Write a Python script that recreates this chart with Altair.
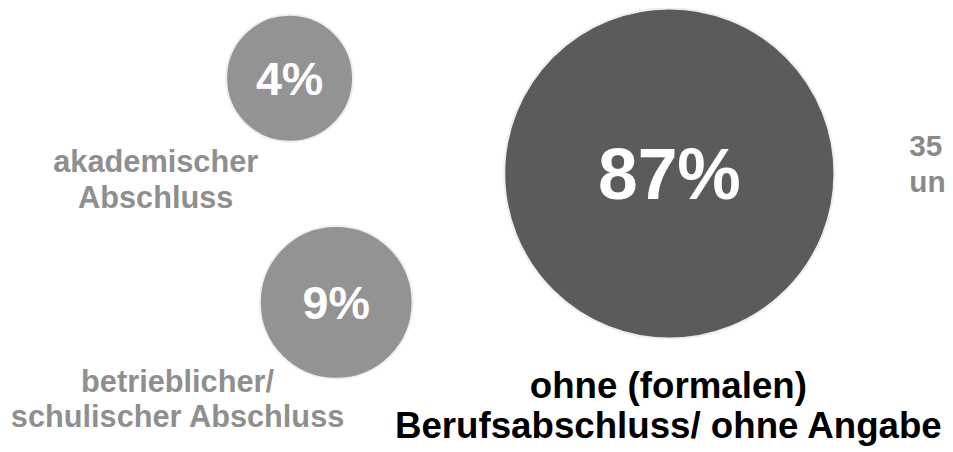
import altair as alt
import pandas as pd

# ---- data ----
categories = ["akademischer Abschluss",
              "betrieblicher/ schulischer Abschluss",
              "ohne (formalen) Berufsabschluss/ ohne Angabe"]
shares = [4, 9, 87]
share_labels = ["4%", "9%", "87%"]
label_lines = ["akademischer\nAbschluss",
               "betrieblicher/\nschulischer Abschluss",
               "ohne (formalen)\nBerufsabschluss/ ohne Angabe"]
side_note = ["35 Jahre\nund älter"]

# ---- layout (page pixel positions, bubble layout has no data axis) ----
bubble_x = [292, 339, 675]
bubble_y = [77, 303, 173]
label_x = [157, 179, 674]
label_y = [172, 393, 399]
note_x = [917]
note_y = [155]

W, H = 945, 444
FONT = "Liberation Sans"

bubbles = pd.DataFrame({"cat": categories, "share": shares, "lab": share_labels,
                        "x": bubble_x, "y": bubble_y})
labels = pd.DataFrame({"cat": categories, "text": label_lines, "x": label_x, "y": label_y})
note = pd.DataFrame({"text": side_note, "x": note_x, "y": note_y})

xs = alt.Scale(domain=[8, 8 + W], range=[0, W], nice=False, zero=False)
ys = alt.Scale(domain=[8, 8 + H], range=[0, H], nice=False, zero=False)
X = lambda: alt.X("x:Q", scale=xs, axis=None)
Y = lambda: alt.Y("y:Q", scale=ys, axis=None)

circles = alt.Chart(bubbles).mark_circle(opacity=1, stroke="#eeeeee", strokeWidth=2).encode(
    x=X(), y=Y(),
    size=alt.Size("share:Q", scale=alt.Scale(domain=[4, 9, 87], range=[16384, 23716, 110889]), legend=None),
    color=alt.Color("cat:N", scale=alt.Scale(domain=categories, range=["#939393", "#939393", "#5b5b5b"]), legend=None),
)

pct_small = alt.Chart(bubbles).transform_filter("datum.share < 50").mark_text(
    font=FONT, fontWeight="bold", color="white", fontSize=47, align="center",
    baseline="alphabetic", dy=17).encode(x=X(), y=Y(), text="lab:N")
pct_big = alt.Chart(bubbles).transform_filter("datum.share >= 50").mark_text(
    font=FONT, fontWeight="bold", color="white", fontSize=72, align="center",
    baseline="alphabetic", dy=26).encode(x=X(), y=Y(), text="lab:N")

gray_labels = alt.Chart(labels).transform_filter("datum.x < 400").mark_text(
    font=FONT, fontWeight="bold", color="#8f8f8f", fontSize=31, lineHeight=36,
    align="center", baseline="alphabetic", lineBreak="\n").encode(x=X(), y=Y(), text="text:N")
black_label = alt.Chart(labels).transform_filter("datum.x >= 400").mark_text(
    font=FONT, fontWeight="bold", color="#000000", fontSize=37, lineHeight=41,
    align="center", baseline="alphabetic", lineBreak="\n").encode(x=X(), y=Y(), text="text:N")
note_label = alt.Chart(note).mark_text(
    font=FONT, fontWeight="bold", color="#8a8a8a", fontSize=30, lineHeight=37,
    align="left", baseline="alphabetic", lineBreak="\n").encode(x=X(), y=Y(), text="text:N")

chart = alt.layer(circles, pct_small, pct_big, gray_labels, black_label, note_label).properties(
    width=W, height=H, padding=0, autosize=alt.AutoSizeParams(type="none"),
    background="white",
).configure_view(stroke=None)

chart.save("out.html", embed_options={"renderer": "svg", "actions": False})
